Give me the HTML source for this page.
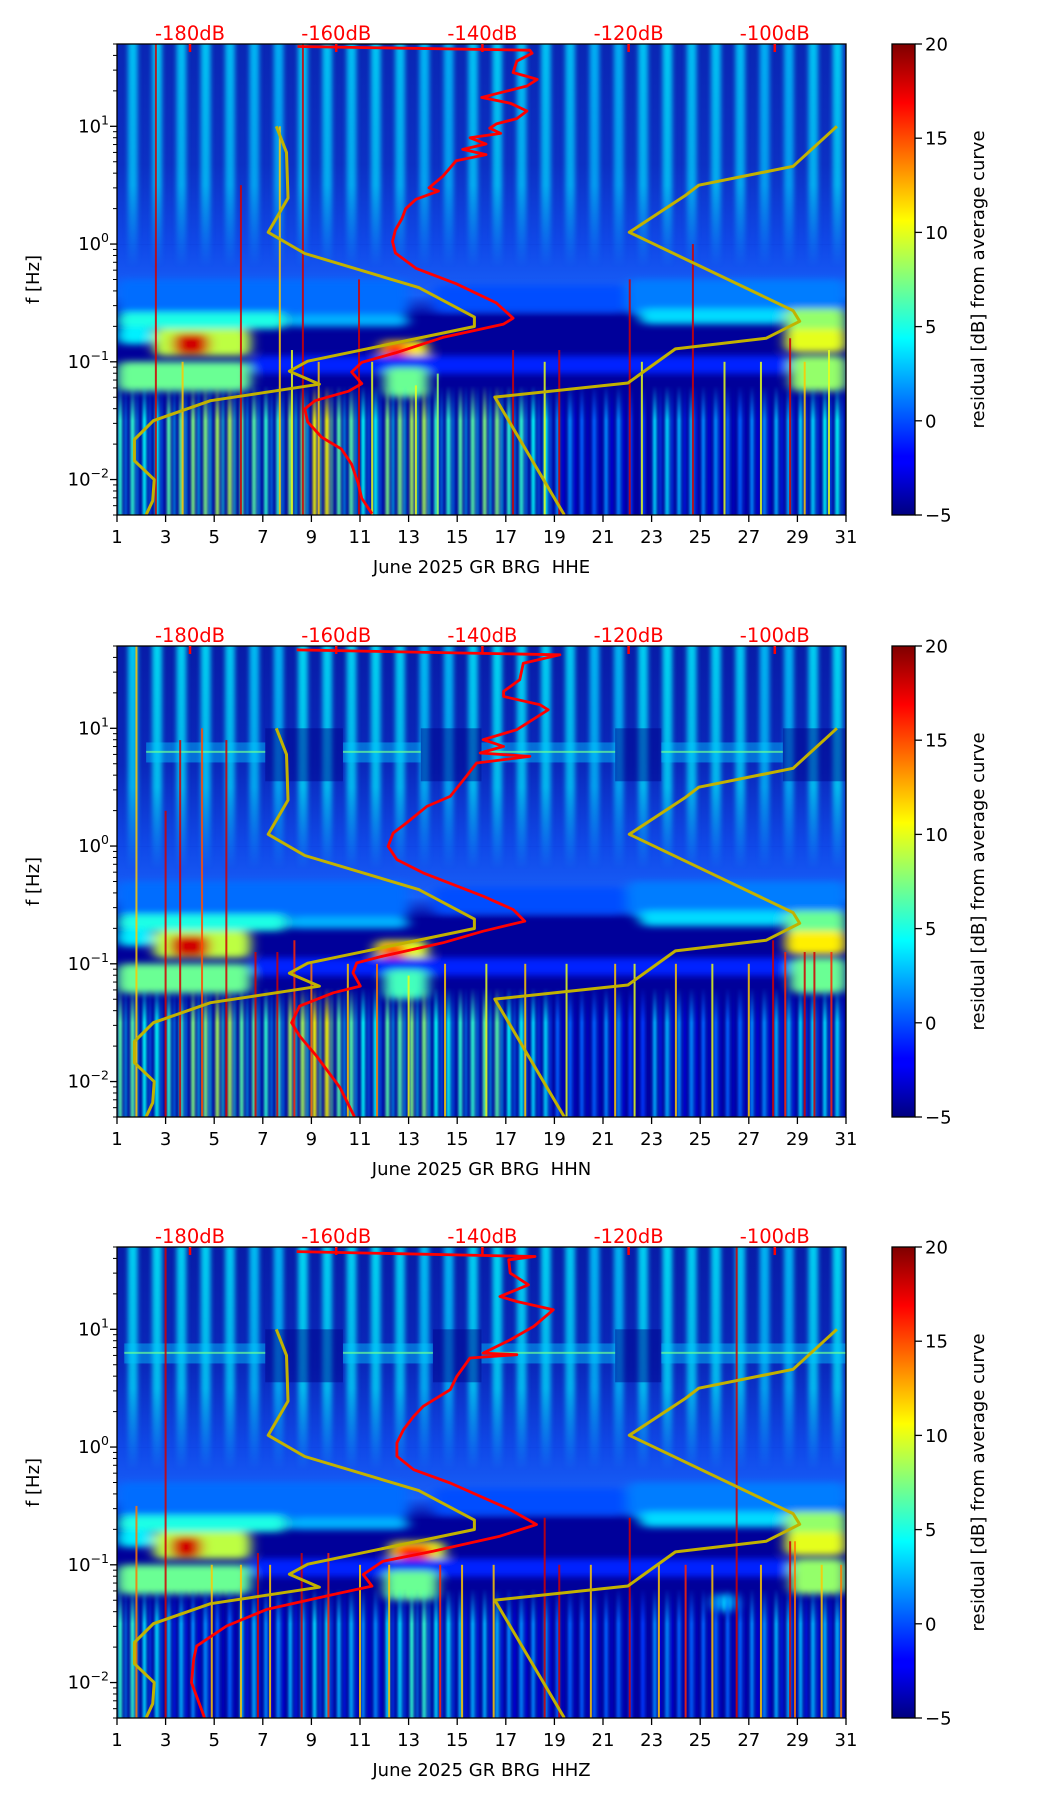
<!DOCTYPE html>
<html><head><meta charset="utf-8">
<style>
html,body{margin:0;padding:0;background:#fff;}
svg{display:block;font-family:"DejaVu Sans","Liberation Sans",sans-serif;}
</style></head>
<body>
<svg id="fig" width="1052" height="1806" viewBox="0 0 1052 1806" xmlns="http://www.w3.org/2000/svg">
<defs>
<filter id="blobBlur" filterUnits="userSpaceOnUse" x="0" y="0" width="1052" height="1806"><feGaussianBlur stdDeviation="6 3.5"/></filter>
<filter id="stripeBlur" filterUnits="userSpaceOnUse" x="0" y="0" width="1052" height="1806"><feGaussianBlur stdDeviation="2.5 0"/></filter>
<filter id="softBlur" filterUnits="userSpaceOnUse" x="0" y="0" width="1052" height="1806"><feGaussianBlur stdDeviation="1.2 0"/></filter>
<linearGradient id="cbGrad" x1="0" y1="1" x2="0" y2="0">
<stop offset="0" stop-color="#00007f"/><stop offset="0.11" stop-color="#0000ff"/><stop offset="0.125" stop-color="#0000ff"/>
<stop offset="0.375" stop-color="#00ffff"/><stop offset="0.625" stop-color="#ffff00"/><stop offset="0.875" stop-color="#ff0000"/><stop offset="1" stop-color="#7f0000"/>
</linearGradient>
</defs>
</svg>
<script>
// ---------- data ----------
const panelTitles = ["June 2025 GR BRG\u00a0\u00a0HHE","June 2025 GR BRG\u00a0\u00a0HHN","June 2025 GR BRG\u00a0\u00a0HHZ"];
const dayTicks = [1,3,5,7,9,11,13,15,17,19,21,23,25,27,29,31];
const dbTicks = [-180,-160,-140,-120,-100];
const cbTicks = [-5,0,5,10,15,20];
const freqDecades = [-2,-1,0,1];

const nlnmDb = [-168.2,-166.8,-166.6,-169.3,-164.3,-148.7,-141.1,-141.1,-163.9,-166.4,-162.3,-177.2,-185.0,-187.6,-187.6,-184.9,-185.1,-186.0];
const nlnmLf = [1,0.778,0.39,0.10,-0.08,-0.37,-0.62,-0.70,-0.995,-1.08,-1.19,-1.33,-1.50,-1.66,-1.84,-2.0,-2.18,-2.30];
const nhnmDb = [-91.5,-97.5,-110.4,-112.3,-119.9,-97.5,-96.6,-101.2,-113.6,-120.1,-138.3,-128.8];
const nhnmLf = [1.0,0.66,0.50,0.41,0.10,-0.565,-0.656,-0.80,-0.89,-1.18,-1.30,-2.30];

const psdDbHHE = [-165.3,-133.5,-133.2,-135.3,-135.8,-133.9,-132.5,-133.9,-138.1,-140.1,-136.2,-133.9,-135.3,-138.1,-139.0,-137.5,-141.7,-139.5,-142.7,-139.5,-143.6,-145.4,-147.3,-146.0,-149.1,-150.5,-151.0,-151.9,-152.3,-151.9,-149.1,-143.6,-138.1,-135.8,-137.1,-145.4,-151.9,-156.5,-157.9,-156.5,-158.3,-162.9,-164.3,-163.9,-162.0,-159.3,-157.9,-157.0,-156.5,-155.1];
const psdLfHHE = [1.678,1.646,1.62,1.554,1.456,1.424,1.398,1.342,1.277,1.245,1.196,1.13,1.065,1.02,0.984,0.94,0.902,0.85,0.804,0.76,0.707,0.576,0.478,0.45,0.38,0.299,0.217,0.119,0.022,-0.076,-0.206,-0.337,-0.5,-0.63,-0.68,-0.793,-0.924,-1.005,-1.087,-1.185,-1.25,-1.33,-1.40,-1.51,-1.64,-1.74,-1.87,-2.03,-2.16,-2.29];
const psdDbHHN = [-165.4,-129.4,-134.4,-134.9,-137.1,-137.1,-132.1,-131.0,-135.3,-139.9,-137.1,-140.3,-133.5,-140.8,-142.2,-144.4,-147.6,-150.4,-152.2,-152.9,-151.7,-148.1,-139.9,-135.8,-134.2,-139.9,-145.4,-153.6,-157.2,-157.7,-156.7,-160.4,-165.0,-166.1,-165.0,-162.7,-159.5,-157.5];
const psdLfHHN = [1.666,1.624,1.553,1.412,1.313,1.27,1.20,1.157,0.988,0.903,0.846,0.790,0.761,0.705,0.592,0.422,0.337,0.196,0.111,-0.002,-0.115,-0.228,-0.426,-0.539,-0.638,-0.723,-0.822,-0.935,-0.992,-1.076,-1.189,-1.246,-1.359,-1.50,-1.613,-1.783,-2.05,-2.30];
const psdDbHHZ = [-165.4,-132.8,-136.4,-136.2,-133.7,-137.6,-135.3,-130.3,-133.0,-136.2,-139.9,-135.3,-141.7,-143.5,-144.4,-148.1,-149.4,-150.8,-151.7,-151.7,-149.4,-144.4,-136.2,-132.6,-137.6,-146.7,-153.6,-156.3,-155.1,-160.4,-169.5,-175.0,-179.1,-179.5,-179.8,-178.0];
const psdLfHHZ = [1.66,1.618,1.59,1.477,1.378,1.279,1.236,1.166,1.024,0.911,0.798,0.784,0.756,0.600,0.487,0.346,0.261,0.148,0.035,-0.078,-0.192,-0.305,-0.531,-0.658,-0.757,-0.884,-0.969,-1.082,-1.181,-1.252,-1.379,-1.52,-1.69,-1.80,-2.0,-2.3];

const stripeHHE = [3.5,3.8,3.5,3.6,3.4,3.2,3.0,3.8,3.6,3.5,3.7,3.5,3.2,3.0,3.6,3.8,3.5,3.6,3.4,3.0,3.0,3.6,3.8,3.5,3.6,3.4,3.0,3.0,3.6,3.8];
const stripeHHN = [3.8,4.2,4.0,4.0,3.8,3.4,3.2,4.2,4.0,4.0,4.1,3.9,3.4,3.2,4.0,4.2,4.0,4.0,3.8,3.2,3.2,4.0,4.2,4.0,4.0,3.8,3.2,3.2,4.0,4.2];
const stripeHHZ = [4.0,4.2,4.0,4.0,3.8,3.4,3.2,4.2,4.0,4.0,4.1,3.9,3.4,3.2,4.0,4.2,4.0,4.0,3.8,3.2,3.2,4.0,4.2,4.0,4.0,3.8,3.2,3.2,4.0,4.2];

const hbStartHHN = [2.2,10.3,16.0,23.4], hbEndHHN = [7.1,13.5,21.5,28.4];
const dkStartHHN = [7.1,13.5,21.5,28.4], dkEndHHN = [10.3,16.0,23.4,31.0];
const hbStartHHZ = [1.3,10.3,16.0,23.4], hbEndHHZ = [7.1,14.0,21.5,31.0];
const dkStartHHZ = [7.1,14.0,21.5], dkEndHHZ = [10.3,16.0,23.4];

const lowHHE = [4,3,5,6,7,5,4,6,9,5,3,6,7,4,5,6,4,3,0,-1,0,-2,2,1,0,-1,0,1,2,3];
const lowHHN = [5,3,4,6,7,5,4,7,9,5,3,5,6,3,4,5,3,2,-1,-1,0,-2,1,0,-1,-1,0,1,2,2];
const lowHHZ = [4,2,1,0,-1,1,0,1,2,1,0,2,4,2,1,1,0,0,-1,-1,-1,-2,0,-1,-1,-1,0,1,1,1];

const strDayHHE = [2.6,3.7,6.1,7.7,8.2,8.65,9.3,10.96,11.5,13.3,14.2,17.3,18.6,19.2,22.1,22.6,24.7,26.0,27.5,28.7,29.3,30.3];
const strValHHE = [18,12,18,12,10,18,12,18,10,10,8,18,10,18,18,10,18,10,10,18,12,10];
const strTopHHE = [1.7,-1.0,0.5,1.0,-0.9,1.7,-1.0,-0.3,-1.0,-1.2,-1.1,-0.9,-1.0,-0.9,-0.3,-1.0,0.0,-1.0,-1.0,-0.8,-1.0,-0.9];
const strDayHHN = [1.8,3.0,3.6,4.5,5.5,6.7,7.6,8.3,9.0,10.5,11.7,13.0,14.5,16.2,17.8,19.5,21.5,22.3,24.0,25.5,27.0,28.0,28.5,29.3,29.7,30.4];
const strValHHN = [12,18,18,15,18,18,18,16,14,12,14,10,12,10,12,10,12,10,12,10,12,18,16,18,18,16];
const strTopHHN = [1.7,0.3,0.9,1.0,0.9,-0.9,-0.9,-0.8,-1.0,-1.0,-1.0,-1.1,-1.0,-1.0,-1.0,-1.0,-1.0,-1.0,-1.0,-1.0,-1.0,-0.8,-0.9,-0.9,-0.9,-0.9];
const strDayHHZ = [1.8,3.0,4.9,6.1,6.8,7.3,8.6,9.7,11.0,12.2,14.3,15.2,16.5,18.6,19.2,20.5,22.1,23.3,24.4,25.5,26.5,27.5,28.7,28.9,30.0,30.8];
const strValHHZ = [14,18,12,12,18,12,18,16,12,12,16,12,12,18,18,12,18,12,16,12,18,12,18,14,12,14];
const strTopHHZ = [-0.5,1.7,-1.0,-1.0,-0.9,-1.0,-0.9,-0.9,-1.0,-1.0,-1.0,-1.0,-1.0,-0.6,-1.0,-1.0,-0.6,-1.0,-1.0,-1.0,1.7,-1.0,-0.8,-0.8,-1.0,-1.0];

const blobsHHE = [[1,13,-0.3,-0.6,0.8],[14,22,-0.35,-0.58,0],[22,31,-0.3,-0.6,1.2],
 [1,8,-0.58,-0.72,5],[8,13,-0.6,-0.7,2.5],[22.5,28.5,-0.55,-0.68,3.5],[28.5,31,-0.55,-0.8,8],
 [1,2.5,-0.7,-0.85,4],[2.5,6.5,-0.72,-0.95,9],[3.3,4.8,-0.76,-0.94,18],[11.8,13.8,-0.82,-1.0,11],[11.9,13.0,-0.84,-0.97,16],[28.5,31,-0.72,-0.92,10],
 [6.5,28.7,-0.95,-1.1,-1],[1,6.5,-1.0,-1.25,7],[12,13.8,-1.05,-1.3,7],[28.7,31,-0.95,-1.25,8]];
const blobsHHN = [[1,13,-0.3,-0.6,0.8],[14,22,-0.35,-0.58,0],[22,31,-0.3,-0.6,1.2],
 [1,8,-0.58,-0.72,5],[8,13,-0.6,-0.7,2.5],[22.5,28.5,-0.55,-0.68,3.5],[28.5,31,-0.55,-0.8,7],
 [1,2.5,-0.7,-0.85,4],[2.5,6.5,-0.72,-0.95,9],[3.2,4.8,-0.76,-0.94,18],[11.6,13.8,-0.8,-1.0,10],[11.8,12.9,-0.83,-0.97,15],[28.5,31,-0.72,-0.92,11],
 [6.5,28.7,-0.95,-1.1,-1],[1,6.5,-1.0,-1.25,7],[12,13.8,-1.05,-1.3,6],[28.7,31,-0.95,-1.25,7]];
const blobsHHZ = [[1,13,-0.3,-0.6,0.8],[14,22,-0.35,-0.58,0],[22,31,-0.3,-0.6,1.2],
 [1,8,-0.58,-0.72,5],[8,13,-0.6,-0.7,2.5],[22.5,28.5,-0.55,-0.68,3.5],[28.5,31,-0.55,-0.8,8],
 [1,2.5,-0.7,-0.85,4],[2.5,6.5,-0.72,-0.95,9],[3.2,4.5,-0.76,-0.94,18],[12.2,14.5,-0.8,-1.0,10],[12.4,14.0,-0.83,-0.95,16],[28.5,31,-0.72,-0.92,10],
 [6.5,28.7,-0.95,-1.1,-1],[1,6.5,-1.0,-1.25,7],[12,14.2,-1.05,-1.3,7],[28.7,31,-0.95,-1.25,8],[25.5,26.5,-1.25,-1.4,3]];

// ---------- layout helpers ----------
const NS = "http://www.w3.org/2000/svg";
const svg = document.getElementById("fig");
const defs = svg.querySelector("defs");
const X0 = 117, X1 = 846, PH = 471;
const TOPS = [44, 646, 1247];
const LF_TOP = Math.log10(50), LF_BOT = Math.log10(0.005);
const xDay = d => X0 + (d - 1) * (X1 - X0) / 30;
const yLf = (top, lf) => top + (LF_TOP - lf) / (LF_TOP - LF_BOT) * PH;
const xDb = db => 190 + (db + 180) * 7.31;
function jet(v){
  const t = Math.max(0, Math.min(1, (v + 5) / 25));
  const c = x => Math.round(255 * Math.max(0, Math.min(1, 1.5 - Math.abs(4 * t - x))));
  return `rgb(${c(3)},${c(2)},${c(1)})`;
}
function el(tag, attrs, parent){
  const e = document.createElementNS(NS, tag);
  for (const k in attrs) e.setAttribute(k, attrs[k]);
  (parent || svg).appendChild(e);
  return e;
}
function grad(id, stops){
  const g = el("linearGradient", {id, x1:0, y1:0, x2:0, y2:1}, defs);
  stops.forEach(s => el("stop", {offset:s[0], "stop-color":s[1], "stop-opacity":s[2] === undefined ? 1 : s[2]}, g));
  return g;
}

const channels = [
  {title:panelTitles[0], psdDb:psdDbHHE, psdLf:psdLfHHE, stripes:stripeHHE, low:lowHHE, sDay:strDayHHE, sVal:strValHHE, sTop:strTopHHE, blobs:blobsHHE, hbS:[], hbE:[], dkS:[], dkE:[]},
  {title:panelTitles[1], psdDb:psdDbHHN, psdLf:psdLfHHN, stripes:stripeHHN, low:lowHHN, sDay:strDayHHN, sVal:strValHHN, sTop:strTopHHN, blobs:blobsHHN, hbS:hbStartHHN, hbE:hbEndHHN, dkS:dkStartHHN, dkE:dkEndHHN},
  {title:panelTitles[2], psdDb:psdDbHHZ, psdLf:psdLfHHZ, stripes:stripeHHZ, low:lowHHZ, sDay:strDayHHZ, sVal:strValHHZ, sTop:strTopHHZ, blobs:blobsHHZ, hbS:hbStartHHZ, hbE:hbEndHHZ, dkS:dkStartHHZ, dkE:dkEndHHZ}
];

channels.forEach((ch, p) => {
  const top = TOPS[p], bot = top + PH;
  const panel = el("g", {});
  
  

  const cp = el("clipPath", {id:"clip" + p}, defs);
  el("rect", {x:X0, y:top, width:X1 - X0, height:PH}, cp);

  const sm = el("mask", {id:"stripeMask" + p, maskUnits:"userSpaceOnUse", x:X0, y:top, width:X1-X0, height:PH}, defs);
  grad("smg" + p, [[0,"#fff",0.85],[(yLf(top,0.5)-top)/PH,"#fff",0.7],[(yLf(top,-0.2)-top)/PH,"#fff",0],[1,"#fff",0]]);
  el("rect", {x:X0, y:top, width:X1-X0, height:PH, fill:"url(#smg" + p + ")"}, sm);
  const lm = el("mask", {id:"lowMask" + p, maskUnits:"userSpaceOnUse", x:X0, y:top, width:X1-X0, height:PH}, defs);
  grad("lmg" + p, [[0,"#fff",0],[(yLf(top,-1.2)-top)/PH,"#fff",0],[(yLf(top,-1.5)-top)/PH,"#fff",1],[1,"#fff",0.9]]);
  el("rect", {x:X0, y:top, width:X1-X0, height:PH, fill:"url(#lmg" + p + ")"}, lm);

  const img = el("g", {"clip-path":"url(#clip" + p + ")"}, panel);
  
  

  el("rect", {x:X0, y:top, width:X1-X0, height:PH, fill:"#00009a"}, img);
  grad("upg" + p, [[0,p===0?"#0a26b4":"#081ca8"],[0.6,p===0?"#0c30c4":"#0a28bc"],[1,"#1048e8"]]);
  const yUp = yLf(top, 0);
  el("rect", {x:X0, y:top, width:X1-X0, height:yUp-top, fill:"url(#upg" + p + ")"}, img);
  grad("mdg" + p, [[0,"#1048e8"],[0.7,"#1860f8"],[1,"#1860f8",0]]);
  el("rect", {x:X0, y:yUp, width:X1-X0, height:yLf(top,-0.62)-yUp, fill:"url(#mdg" + p + ")"}, img);

  const sg = el("g", {mask:"url(#stripeMask" + p + ")"}, img);
  const sgi = el("g", {filter:"url(#stripeBlur)"}, sg);
  ch.stripes.forEach((v, i) => {
    const d = i + 1;
    const r = el("rect", {x:xDay(d + 0.45), y:top, width:xDay(d + 0.85) - xDay(d + 0.45), height:PH, fill:jet(v)}, sgi);
    
    
  });

  ch.dkS.forEach((s, i) => {
    const r = el("rect", {x:xDay(s), y:yLf(top,1.0), width:xDay(ch.dkE[i])-xDay(s), height:yLf(top,0.55)-yLf(top,1.0), fill:"#000088", opacity:0.45}, img);
    
    
  });

  ch.hbS.forEach((s, i) => {
    const r = el("rect", {x:xDay(s), y:yLf(top,0.88), width:xDay(ch.hbE[i])-xDay(s), height:yLf(top,0.71)-yLf(top,0.88), fill:jet(3), opacity:0.45}, img);
    
    
    const l = el("rect", {x:xDay(s), y:yLf(top,0.80)-1, width:xDay(ch.hbE[i])-xDay(s), height:2, fill:jet(7), opacity:0.7}, img);
    
    
  });

  const bg = el("g", {filter:"url(#blobBlur)"}, img);
  ch.blobs.forEach(b => {
    const r = el("rect", {x:xDay(b[0]), y:yLf(top,b[2]), width:xDay(b[1])-xDay(b[0]), height:yLf(top,b[3])-yLf(top,b[2]), rx:8, fill:jet(b[4])}, bg);
    
    
  });

  const lgp = el("g", {mask:"url(#lowMask" + p + ")"}, img);
  const lgi = el("g", {filter:"url(#softBlur)"}, lgp);
  const subOff = [0.05,0.3,0.55,0.78], subW = [0.16,0.12,0.18,0.12], subOp = [1,0.7,0.95,0.65];
  ch.low.forEach((v, i) => {
    const d = i + 1;
    subOff.forEach((o, k) => {
      const r = el("rect", {x:xDay(d + o), y:yLf(top,-1.15), width:xDay(d + o + subW[k]) - xDay(d + o), height:bot - yLf(top,-1.15), fill:jet(v + (k % 2 ? -2 : 1.5)), opacity:subOp[k]}, lgi);
      
      
    });
  });

  ch.sDay.forEach((d, i) => {
    const r = el("rect", {x:xDay(d) - 1, y:yLf(top, ch.sTop[i]), width:2, height:bot - yLf(top, ch.sTop[i]), fill:jet(ch.sVal[i]), opacity:0.85}, img);
    
    
  });

  const pts = (dbs, lfs) => dbs.map((d, i) => xDb(d).toFixed(1) + "," + yLf(top, lfs[i]).toFixed(1)).join(" ");
  const n1 = el("polyline", {points:pts(nlnmDb, nlnmLf), fill:"none", stroke:"#c2b200", "stroke-width":3, "stroke-linejoin":"round"}, img);
  
  
  const n2 = el("polyline", {points:pts(nhnmDb, nhnmLf), fill:"none", stroke:"#c2b200", "stroke-width":3, "stroke-linejoin":"round"}, img);
  
  
  const rc = el("polyline", {points:pts(ch.psdDb, ch.psdLf), fill:"none", stroke:"#ff0000", "stroke-width":2.8, "stroke-linejoin":"round"}, img);
  
  

  const fr = el("rect", {x:X0, y:top, width:X1-X0, height:PH, fill:"none", stroke:"#000", "stroke-width":1.3}, panel);
  
  

  dbTicks.forEach(db => {
    const x = xDb(db);
    el("line", {x1:x, y1:top, x2:x, y2:top + 8, stroke:"#ff0000", "stroke-width":2.5}, panel);
    const t = el("text", {x:x, y:top - 4, "text-anchor":"middle", "font-size":19.5, fill:"#ff0000"}, panel);
    t.textContent = db + "dB";
    
    
  });

  dayTicks.forEach(d => {
    const x = xDay(d);
    el("line", {x1:x, y1:bot, x2:x, y2:bot + 7, stroke:"#000", "stroke-width":1.3}, panel);
    const t = el("text", {x:x, y:bot + 28, "text-anchor":"middle", "font-size":18, fill:"#000"}, panel);
    t.textContent = d;
    
    
  });
  const xl = el("text", {x:(X0 + X1) / 2, y:bot + 58, "text-anchor":"middle", "font-size":18, fill:"#000"}, panel);
  xl.textContent = ch.title;
  
  

  for (let dec = -3; dec <= 1; dec++) {
    for (let k = 1; k <= 9; k++) {
      const lf = dec + Math.log10(k);
      if (lf < LF_BOT - 1e-6 || lf > LF_TOP + 1e-6) continue;
      const y = yLf(top, lf);
      el("line", {x1:X0, y1:y, x2:X0 - (k === 1 ? 7 : 4), y2:y, stroke:"#000", "stroke-width":k === 1 ? 1.3 : 1}, panel);
    }
  }
  freqDecades.forEach(dec => {
    const y = yLf(top, dec);
    const t = el("text", {x:109, y:y + 6, "text-anchor":"end", "font-size":18, fill:"#000"}, panel);
    
    
    const a = el("tspan", {}, t); a.textContent = "10";
    const b = el("tspan", {dy:-8, "font-size":12.5}, t); b.textContent = dec < 0 ? "\u2212" + (-dec) : dec;
  });
  const yl = el("text", {x:0, y:0, transform:`translate(39,${top + PH / 2}) rotate(-90)`, "text-anchor":"middle", "font-size":18, fill:"#000"}, panel);
  yl.textContent = "f [Hz]";
  
  

  const cb = el("rect", {x:892, y:top, width:23, height:PH, fill:"url(#cbGrad)", stroke:"#000", "stroke-width":1.3}, panel);
  
  
  cbTicks.forEach(v => {
    const y = bot - (v + 5) / 25 * PH;
    el("line", {x1:915, y1:y, x2:922, y2:y, stroke:"#000", "stroke-width":1.3}, panel);
    const t = el("text", {x:925, y:y + 6.5, "font-size":18, fill:"#000"}, panel);
    t.textContent = v < 0 ? "\u2212" + (-v) : v;
    
    
  });
  const cl = el("text", {x:0, y:0, transform:`translate(984,${top + PH / 2}) rotate(-90)`, "text-anchor":"middle", "font-size":18, fill:"#000"}, panel);
  cl.textContent = "residual [dB] from average curve";
  
  
});
</script>
</body></html>
